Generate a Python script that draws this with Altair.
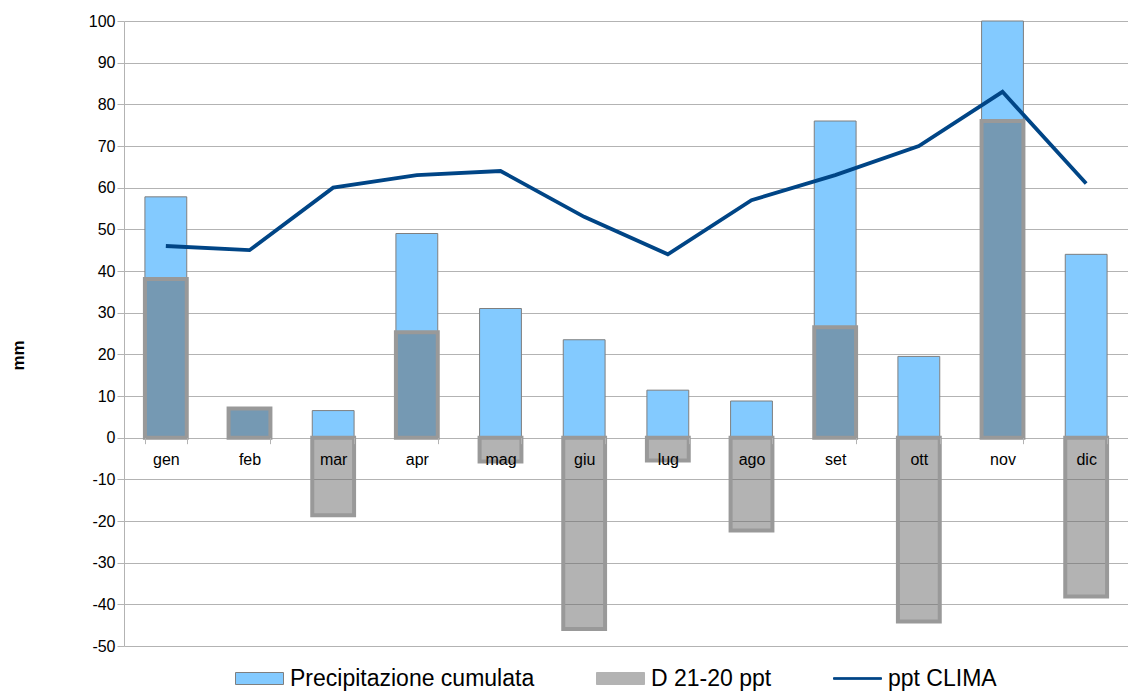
import altair as alt
import pandas as pd

months = ["gen", "feb", "mar", "apr", "mag", "giu", "lug", "ago", "set", "ott", "nov", "dic"]
precip = [57.8, 7.2, 6.5, 49.0, 31.0, 23.5, 11.4, 8.8, 76.0, 19.5, 100.0, 44.0]
diff = [38.1, 7.0, -18.6, 25.3, -5.7, -45.9, -5.5, -22.3, 26.5, -44.1, 76.0, -38.1]
clima = [46, 45, 60, 63, 64, 53, 44, 57, 63, 70, 83, 61]
series = ["Precipitazione cumulata", "D 21-20 ppt", "ppt CLIMA"]
y_ticks = [-50, -40, -30, -20, -10, 0, 10, 20, 30, 40, 50, 60, 70, 80, 90, 100]

df = pd.DataFrame({"mese": months, "precip": precip, "diff": diff, "clima": clima})

FONT = "Liberation Sans"
GRID = "#b3b3b3"

x_enc = alt.X(
    "mese:N",
    sort=months,
    scale=alt.Scale(paddingInner=0.5, paddingOuter=0.25),
    axis=alt.Axis(
        title=None, orient="bottom", offset=-208.33, domain=False,
        tickBand="extent", tickSize=6, tickColor=GRID, labelPadding=8,
        labelFontSize=16, labelFont=FONT, labelColor="black", labelAngle=0, zindex=1,
    ),
)

y_scale = alt.Scale(domain=[-50, 100], nice=False, zero=False)
y_axis = alt.Axis(
    values=y_ticks, title="mm", titleFont=FONT, titleFontSize=17, titleFontWeight="bold",
    titleColor="black", titleX=-106, titleY=334, titleAngle=270, titleAlign="center",
    titleBaseline="middle", labelFont=FONT, labelFontSize=16, labelColor="black",
    labelExpr="datum.value < 0 ? '-' + abs(datum.value) : '' + datum.value",
    tickSize=7, tickColor=GRID, labelPadding=2, grid=True, gridColor=GRID,
    domainColor=GRID,
)

blue = alt.Chart(df).mark_bar(fill="#83caff", stroke="#7f7f7f", strokeWidth=1).encode(
    x=x_enc, y=alt.Y("precip:Q", scale=y_scale, axis=y_axis)
)
grey = alt.Chart(df).mark_bar(
    fill="#686868", fillOpacity=0.5, stroke="#999999", strokeWidth=4
).encode(x=x_enc, y=alt.Y("diff:Q"))
line = alt.Chart(df).mark_line(color="#004586", strokeWidth=3.8).encode(
    x=x_enc, y=alt.Y("clima:Q")
)

rect_path = "M-1,-0.25H1V0.25H-1Z"
line_path = "M-1,-0.035H1V0.035H-1Z"
leg = alt.Legend(
    title=None, orient="none", legendX=111, legendY=633, direction="horizontal",
    labelFont=FONT, labelFontSize=23, labelColor="black", labelLimit=500,
    symbolSize=2304, labelOffset=6, columnPadding=59, gridAlign="none", padding=0,
    symbolStrokeWidth=1,
)
legend_df = pd.DataFrame({"serie": series})
legend_layer = alt.Chart(legend_df).mark_point(filled=True, strokeWidth=1, opacity=1).encode(
    color=alt.Color("serie:N", scale=alt.Scale(domain=series, range=["#83caff", "#b3b3b3", "#004586"]), legend=leg),
    stroke=alt.Stroke("serie:N", scale=alt.Scale(domain=series, range=["#7f7f7f", "#b3b3b3", "#004586"]), legend=leg),
    shape=alt.Shape("serie:N", scale=alt.Scale(domain=series, range=[rect_path, rect_path, line_path]), legend=leg),
).transform_filter("false")

chart = alt.layer(blue, grey, line, legend_layer).properties(
    width=1004, height=625,
    autosize=alt.AutoSizeParams(type="none"),
    padding={"left": 116, "top": 13, "right": 0, "bottom": 46},
).configure_view(stroke=None)

chart.save("out.html", embed_options={"renderer": "svg", "actions": False})
